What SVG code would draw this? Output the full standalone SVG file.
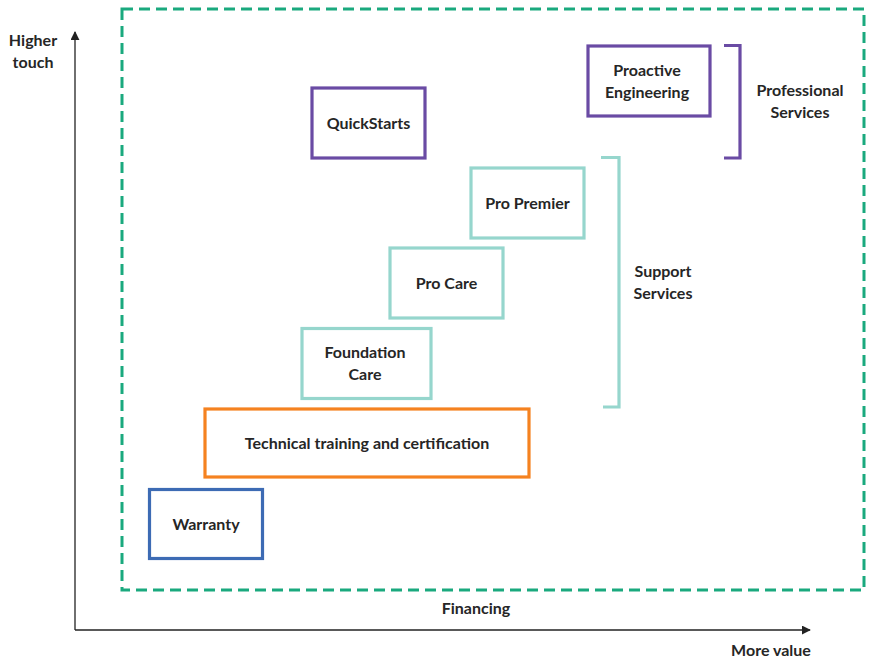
<svg xmlns="http://www.w3.org/2000/svg" width="871" height="661" viewBox="0 0 871 661">
<style>
text{font-family:Lato,"Liberation Sans",sans-serif;font-weight:bold;font-size:16px;fill:#262626;text-anchor:middle}
.box{fill:none;stroke-width:3.2}
.pur{stroke:#6A4BA4}
.tea{stroke:#96D6CD}
.org{stroke:#F58220}
.blu{stroke:#3D6BB4}
.ax{stroke:#222;stroke-width:1.3;fill:none}
</style>
<defs>
<marker id="ah" viewBox="0 0 10 10" refX="9" refY="5" markerWidth="9" markerHeight="9" markerUnits="userSpaceOnUse" orient="auto"><path d="M0,0L10,5L0,10z" fill="#222"/></marker>
</defs>
<rect x="122" y="9" width="742" height="581" fill="none" stroke="#1AA97E" stroke-width="3" stroke-dasharray="11,6"/>
<g id="connectors">
<path class="ax" d="M75,630V32" marker-end="url(#ah)"/>
<path class="ax" d="M75,630H810" marker-end="url(#ah)"/>
<path class="box pur" d="M724,45.5H740V158H724"/>
<path class="box tea" d="M601,157.5H619V407H603"/>
</g>
<g id="axis-labels">
<text x="33" y="46">Higher</text>
<text x="33" y="68">touch</text>
<text x="476" y="614">Financing</text>
<text x="771" y="656">More value</text>
</g>
<g id="professional"><text x="800" y="96">Professional</text><text x="800" y="118">Services</text></g>
<g id="support"><text x="663" y="277">Support</text><text x="663" y="299">Services</text></g>
<g id="quickstarts"><rect class="box pur" x="312" y="88" width="113" height="70"/><text x="368.5" y="129">QuickStarts</text></g>
<g id="proactive"><rect class="box pur" x="588" y="46" width="122" height="70"/><text x="647" y="76">Proactive</text><text x="647" y="98">Engineering</text></g>
<g id="propremier"><rect class="box tea" x="471" y="168" width="113" height="70"/><text x="527.5" y="209">Pro Premier</text></g>
<g id="procare"><rect class="box tea" x="390" y="248" width="113" height="70"/><text x="446.5" y="289">Pro Care</text></g>
<g id="foundation"><rect class="box tea" x="302" y="328.5" width="129" height="70"/><text x="365" y="358">Foundation</text><text x="365" y="380">Care</text></g>
<g id="training"><rect class="box org" x="205" y="409" width="324" height="68"/><text x="367" y="449">Technical training and certification</text></g>
<g id="warranty"><rect class="box blu" x="149.5" y="489.5" width="113" height="69"/><text x="206" y="530">Warranty</text></g>
</svg>
